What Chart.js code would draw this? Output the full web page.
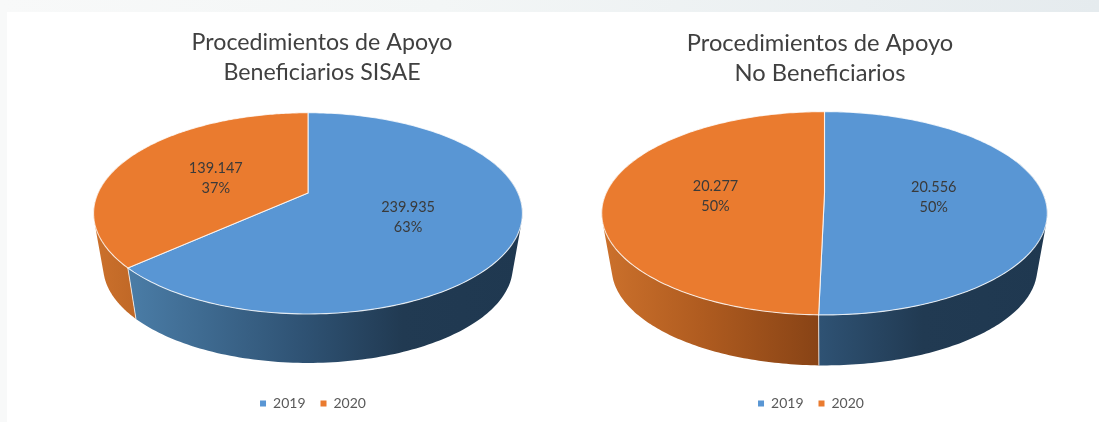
<!DOCTYPE html>
<html>
<head>
<meta charset="utf-8">
<script src="https://cdn.jsdelivr.net/npm/chart.js@4"></script>
<style>
  html, body { margin: 0; padding: 0; width: 1099px; height: 422px; overflow: hidden; background: #fff; }
  #bandTop { position: absolute; left: 0; top: 0; width: 1099px; height: 12px; background: linear-gradient(90deg, #f8f9f9 0%, #f3f6f6 40%, #e5ebee 100%); }
  #bandLeft { position: absolute; left: 0; top: 12px; width: 7px; height: 410px; background: #f8f9f9; }
  canvas { position: absolute; top: 0; filter: blur(0.6px); }
</style>
</head>
<body>
<div id="bandTop"></div>
<div id="bandLeft"></div>
<canvas id="chartLeft" width="520" height="422" style="left:62px"></canvas>
<canvas id="chartRight" width="520" height="422" style="left:560px"></canvas>
<script>
const years = ['2019', '2020'];
const beneficiarios = [239935, 139147];
const noBeneficiarios = [20556, 20277];
const titleLeft = ['Procedimientos de Apoyo', 'Beneficiarios SISAE'];
const titleRight = ['Procedimientos de Apoyo', 'No Beneficiarios'];
const topColors = ['#5996d4', '#ea7b2f'];

// degradado del lateral: [posicion, color]
const sideStops = [
  [[0, '#5a8cb8'], [0.085, '#4a7ca6'], [0.5, '#2e5172'], [0.72, '#213a52'], [1, '#1f3850']],
  [[0, '#cc712c'], [0.22, '#b05c20'], [0.5, '#864215'], [1, '#864215']],
];

const PERSPECTIVE = 0.2022;
const BOTTOM_SCALE = 0.955;

// circulo unidad -> pantalla, con perspectiva
function project(p, angle, frac, scale, drop) {
  const u = Math.cos(angle) * frac;
  const v = Math.sin(angle) * frac;
  const w = 1 - PERSPECTIVE * v;
  return {
    x: p.cx + scale * p.a * u / w,
    y: p.apexY + drop + scale * p.b * v / w,
  };
}

const pie3d = {
  id: 'pie3d',
  afterLayout(chart, args, opts) {
    // la leyenda no esta centrada bajo el titulo
    chart.legend.left += opts.legendShift;
    chart.legend.right += opts.legendShift;
    chart.legend.top -= 1.5;
    chart.legend.bottom -= 1.5;
  },
  beforeDatasetsDraw(chart, args, opts) {
    const ctx = chart.ctx;
    const arcs = chart.getDatasetMeta(0).data;
    const rx = opts.a / Math.sqrt(1 - PERSPECTIVE * PERSPECTIVE);

    // lateral, solo la parte delantera: todas las tiras en un solo path
    arcs.forEach((arc, i) => {
      const grad = ctx.createLinearGradient(opts.cx - rx, 0, opts.cx + rx, 0);
      sideStops[i].forEach(s => grad.addColorStop(s[0], s[1]));
      const step = (arc.endAngle - arc.startAngle) / 200;
      ctx.beginPath();
      for (let k = 0; k < 200; k++) {
        const t0 = arc.startAngle + step * k;
        const t1 = t0 + step;
        if (Math.sin(t0) < -0.35 || Math.sin(t1) < -0.35) continue;
        const quad = [
          project(opts, t0, 1, 1, 0),
          project(opts, t1, 1, 1, 0),
          project(opts, t1, 1, BOTTOM_SCALE, opts.depth),
          project(opts, t0, 1, BOTTOM_SCALE, opts.depth),
        ];
        let area = 0;
        quad.forEach((q, n) => {
          const r = quad[(n + 1) % 4];
          area += q.x * r.y - r.x * q.y;
        });
        if (area < 0) quad.reverse();
        quad.forEach((q, n) => {
          if (n === 0) ctx.moveTo(q.x, q.y);
          else ctx.lineTo(q.x, q.y);
        });
        ctx.closePath();
      }
      ctx.fillStyle = grad;
      ctx.fill();
    });

    // juntas verticales
    ctx.strokeStyle = 'rgba(255,255,255,0.75)';
    ctx.lineWidth = 1;
    arcs.forEach(arc => {
      if (Math.sin(arc.startAngle) > 0) {
        const a = project(opts, arc.startAngle, 1, 1, 0);
        const b = project(opts, arc.startAngle, 1, BOTTOM_SCALE, opts.depth);
        ctx.beginPath();
        ctx.moveTo(a.x, a.y);
        ctx.lineTo(b.x, b.y);
        ctx.stroke();
      }
    });

    // cara superior
    arcs.forEach((arc, i) => {
      ctx.beginPath();
      ctx.moveTo(opts.cx, opts.apexY);
      for (let k = 0; k <= 180; k++) {
        const t = arc.startAngle + (arc.endAngle - arc.startAngle) * k / 180;
        const pt = project(opts, t, 1, 1, 0);
        ctx.lineTo(pt.x, pt.y);
      }
      ctx.closePath();
      ctx.fillStyle = topColors[i];
      ctx.fill();
      ctx.strokeStyle = 'rgba(255,255,255,0.8)';
      ctx.lineWidth = 1.1;
      ctx.stroke();
    });
    return false;
  },
  afterDraw(chart, args, opts) {
    const ctx = chart.ctx;
    const arcs = chart.getDatasetMeta(0).data;
    const values = chart.data.datasets[0].data;
    const total = values.reduce((s, v) => s + v, 0);
    ctx.font = '14.5px Lato';
    ctx.fillStyle = '#3a3a3a';
    ctx.textAlign = 'center';
    ctx.textBaseline = 'middle';
    arcs.forEach((arc, i) => {
      const pos = project(opts, (arc.startAngle + arc.endAngle) / 2, 0.5, 1, 0);
      const text = String(values[i]).replace(/\B(?=(\d{3})+$)/g, '.');
      ctx.fillText(text, pos.x, pos.y + opts.labelDrop - 10);
      ctx.fillText(Math.round(values[i] * 100 / total) + '%', pos.x, pos.y + opts.labelDrop + 10);
    });
  },
};

function makeChart(id, title, values, titleSize, geom) {
  return new Chart(document.getElementById(id), {
    type: 'pie',
    data: {
      labels: years,
      datasets: [{ data: values, backgroundColor: topColors, borderWidth: 0 }],
    },
    plugins: [pie3d],
    options: {
      responsive: false,
      animation: false,
      plugins: {
        title: {
          display: true,
          text: title,
          color: '#404040',
          font: { family: 'Lato', size: titleSize, weight: 'normal', lineHeight: 30 / titleSize },
          padding: { top: 28, bottom: 0 },
        },
        legend: {
          position: 'bottom',
          labels: {
            boxWidth: 6,
            boxHeight: 6,
            color: '#595959',
            font: { family: 'Lato', size: 14 },
            padding: 15,
          },
        },
        tooltip: { enabled: false },
        pie3d: geom,
      },
    },
  });
}

makeChart('chartLeft', titleLeft, beneficiarios, 23.2, {
  cx: 246, apexY: 193, a: 210, b: 96.5, depth: 54.4, labelDrop: 4, legendShift: -9,
});
makeChart('chartRight', titleRight, noBeneficiarios, 23.7, {
  cx: 264.5, apexY: 192.7, a: 218.2, b: 97.5, depth: 56, labelDrop: 4, legendShift: -9,
});
</script>
</body>
</html>
